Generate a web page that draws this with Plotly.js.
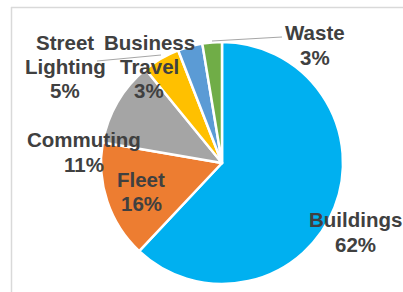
<!DOCTYPE html>
<html>
<head>
<meta charset="utf-8">
<script src="https://cdn.plot.ly/plotly-3.0.1.min.js"></script>
<style>html,body{margin:0;padding:0;background:#fff;}#chart{width:403px;height:292px;}</style>
</head>
<body>
<div id="chart"></div>
<script>
const categories = ["Buildings", "Fleet", "Commuting", "Street Lighting", "Business Travel", "Waste"];
const values = [62.0, 15.7, 11.4, 5.0, 3.3, 2.6];
const colors = ["#00B0F0", "#ED7D31", "#A5A5A5", "#FFC000", "#5B9BD5", "#70AD47"];
const labelLines = [["Buildings"], ["Fleet"], ["Commuting"], ["Street", "Lighting"], ["Business", "Travel"], ["Waste"]];

const W = 403, H = 292;
const total = values.reduce((a, b) => a + b, 0);
const pct = values.map(v => Math.round(v / total * 100) + "%");

// label layout: x centre and y centre of each text line, in pixels (layout only)
const labelX = [355, 141, 84, 65, 149, 315];
const labelY = [[219, 244], [179, 203], [140, 164], [42, 66, 90], [42, 66, 90], [32, 57]];

const annotations = [];
categories.forEach((c, i) => {
  const lines = labelLines[i].concat([pct[i]]);
  lines.forEach((t, j) => {
    annotations.push({
      xref: "paper", yref: "paper",
      x: labelX[i] / W, y: 1 - labelY[i][j] / H,
      xanchor: "center", yanchor: "middle",
      text: t,
      showarrow: false,
      font: {family: "Liberation Sans, Arial, sans-serif", size: 20.5, color: "#404040", weight: "bold"}
    });
  });
});

const px = (x) => x / W, py = (y) => 1 - y / H;
const shapes = [
  {type: "line", xref: "paper", yref: "paper", x0: px(11), y0: py(7.5), x1: px(403), y1: py(7.5), line: {color: "#D9D9D9", width: 1.5}},
  {type: "line", xref: "paper", yref: "paper", x0: px(11.5), y0: py(7), x1: px(11.5), y1: py(292), line: {color: "#D9D9D9", width: 1.5}},
  {type: "line", xref: "paper", yref: "paper", x0: px(97), y0: py(61), x1: px(161), y1: py(55), line: {color: "#A6A6A6", width: 1}},
  {type: "line", xref: "paper", yref: "paper", x0: px(212), y0: py(41), x1: px(282), y1: py(37), line: {color: "#A6A6A6", width: 1}}
];

const cx = 222, cy = 163, r = 121;
const trace = {
  type: "pie",
  labels: categories,
  values: values,
  sort: false,
  direction: "clockwise",
  rotation: 0,
  textinfo: "none",
  hoverinfo: "label+percent",
  marker: {colors: colors, line: {color: "#FFFFFF", width: 2.5}},
  domain: {x: [(cx - r) / W, (cx + r) / W], y: [1 - (cy + r) / H, 1 - (cy - r) / H]}
};

Plotly.newPlot("chart", [trace], {
  width: W, height: H,
  margin: {l: 0, r: 0, t: 0, b: 0},
  showlegend: false,
  paper_bgcolor: "#FFFFFF",
  annotations: annotations,
  shapes: shapes
}, {displayModeBar: false, staticPlot: true});
</script>
</body>
</html>
